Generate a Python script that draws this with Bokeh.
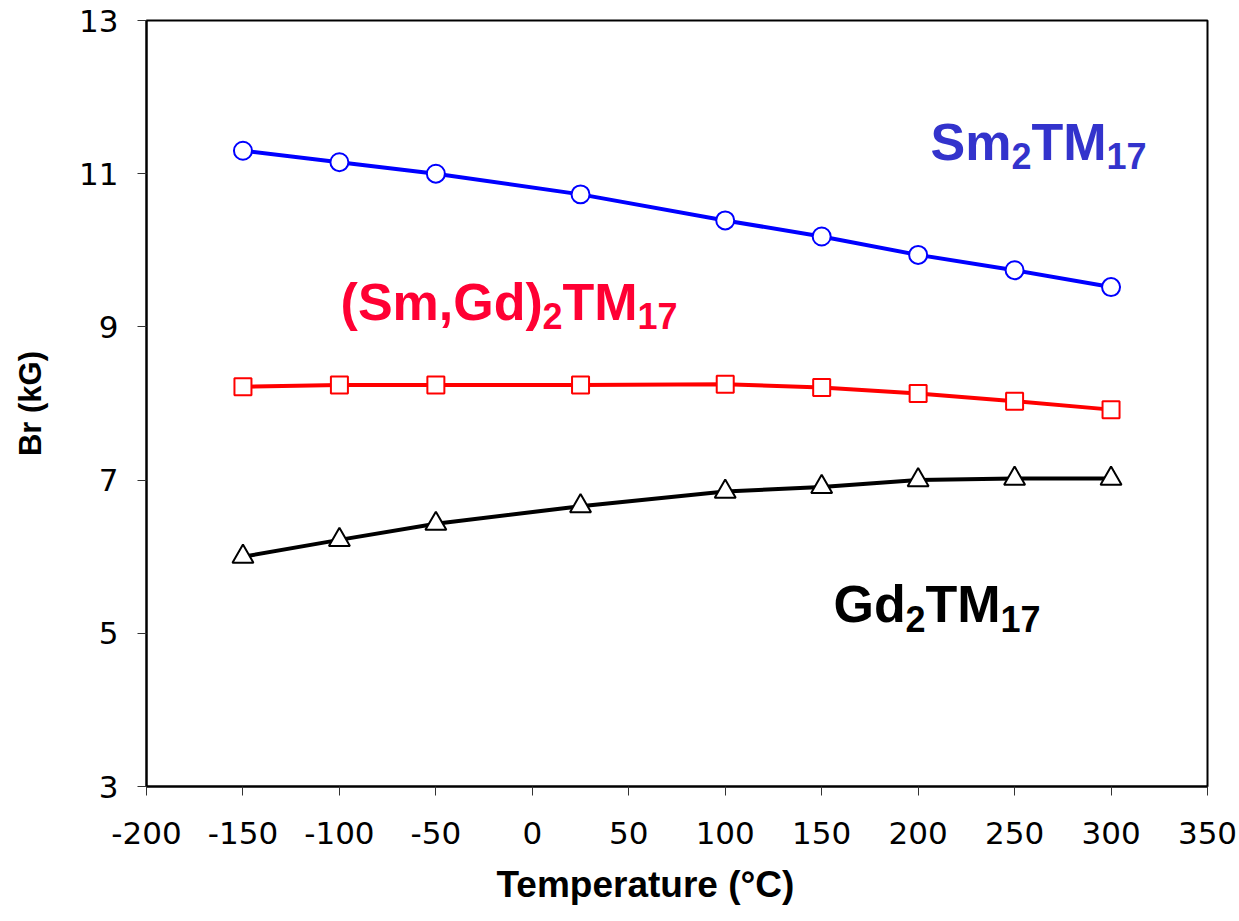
from bokeh.plotting import figure
from bokeh.models import Label, FixedTicker, Title
from bokeh.embed import file_html
from bokeh.resources import INLINE

# ---- data ----
temperature = [-150, -100, -50, 25, 100, 150, 200, 250, 300]
br_sm2tm17 = [11.30, 11.15, 11.00, 10.73, 10.39, 10.18, 9.94, 9.74, 9.52]
br_smgd2tm17 = [8.22, 8.24, 8.24, 8.24, 8.25, 8.21, 8.13, 8.03, 7.92]
br_gd2tm17 = [6.00, 6.22, 6.43, 6.66, 6.85, 6.91, 7.00, 7.02, 7.02]
x_ticks = [-200, -150, -100, -50, 0, 50, 100, 150, 200, 250, 300, 350]
y_ticks = [3, 5, 7, 9, 11, 13]

p = figure(width=1239, height=921, x_range=(-200, 350), y_range=(3, 13),
           output_backend="svg", toolbar_location=None,
           min_border_left=146, min_border_right=32, min_border_top=20,
           min_border_bottom=135)
p.background_fill_color = "white"
p.border_fill_color = "white"
p.outline_line_color = "black"
p.outline_line_width = 2
p.xgrid.visible = False
p.ygrid.visible = False

for ax in (p.xaxis[0], p.yaxis[0]):
    ax.axis_line_color = "black"
    ax.axis_line_width = 2
    ax.major_tick_line_color = "#333333"
    ax.major_tick_line_width = 1
    ax.major_tick_out = 9
    ax.major_tick_in = 0
    ax.minor_tick_line_color = None
    ax.major_label_text_font = "DejaVu Sans"
    ax.major_label_text_font_size = "31px"
    ax.major_label_text_color = "black"

p.xaxis.ticker = FixedTicker(ticks=x_ticks)
p.yaxis.ticker = FixedTicker(ticks=y_ticks)
p.xaxis.major_label_overrides = {t: str(t) for t in x_ticks}
p.xaxis.major_label_standoff = 26
p.yaxis.major_label_standoff = 19

p.yaxis.axis_label = "Br (kG)"
p.yaxis.axis_label_text_font = "Liberation Sans"
p.yaxis.axis_label_text_font_style = "bold"
p.yaxis.axis_label_text_font_size = "31px"
p.yaxis.axis_label_text_color = "black"
p.yaxis.axis_label_standoff = 28

# x axis title (slightly left of centre, as in the reference)
p.add_layout(Title(text="Temperature (°C)", align="left", offset=350, standoff=31,
                   text_font="Liberation Sans", text_font_style="bold",
                   text_font_size="37px", text_color="black"), "below")

# ---- series ----
p.line(temperature, br_sm2tm17, line_color="#0000FF", line_width=4)
p.scatter(temperature, br_sm2tm17, marker="circle", size=18, fill_color="white",
          line_color="#0000FF", line_width=2)

p.line(temperature, br_smgd2tm17, line_color="#FF0000", line_width=4)
p.scatter(temperature, br_smgd2tm17, marker="square", size=17, fill_color="white",
          line_color="#FF0000", line_width=2)

p.line(temperature, br_gd2tm17, line_color="black", line_width=4)
p.scatter(temperature, br_gd2tm17, marker="triangle", size=21, fill_color="white",
          line_color="black", line_width=2)

# ---- series labels with subscripts ----
FONT = "Liberation Sans"

def piece(x, y, text, size, color):
    p.add_layout(Label(x=x, y=y, text=text, text_align="left", text_baseline="alphabetic",
                       text_font=FONT, text_font_style="bold",
                       text_font_size=size, text_color=color))

BIG, SUB = "52px", "36px"
blue_lbl, red_lbl = "#3333CC", "#FF0033"
piece(206.4, 11.42, "Sm", BIG, blue_lbl)
piece(248.4, 11.225, "2", SUB, blue_lbl)
piece(258.8, 11.42, "TM", BIG, blue_lbl)
piece(297.6, 11.225, "17", SUB, blue_lbl)

piece(-99.4, 9.319, "(Sm,Gd)", BIG, red_lbl)
piece(5.3, 9.136, "2", SUB, red_lbl)
piece(15.6, 9.319, "TM", BIG, red_lbl)
piece(54.5, 9.136, "17", SUB, red_lbl)

piece(156.1, 5.376, "Gd", BIG, "black")
piece(193.5, 5.193, "2", SUB, "black")
piece(203.8, 5.376, "TM", BIG, "black")
piece(242.7, 5.193, "17", SUB, "black")

open("out.html", "w").write(file_html(p, INLINE))
